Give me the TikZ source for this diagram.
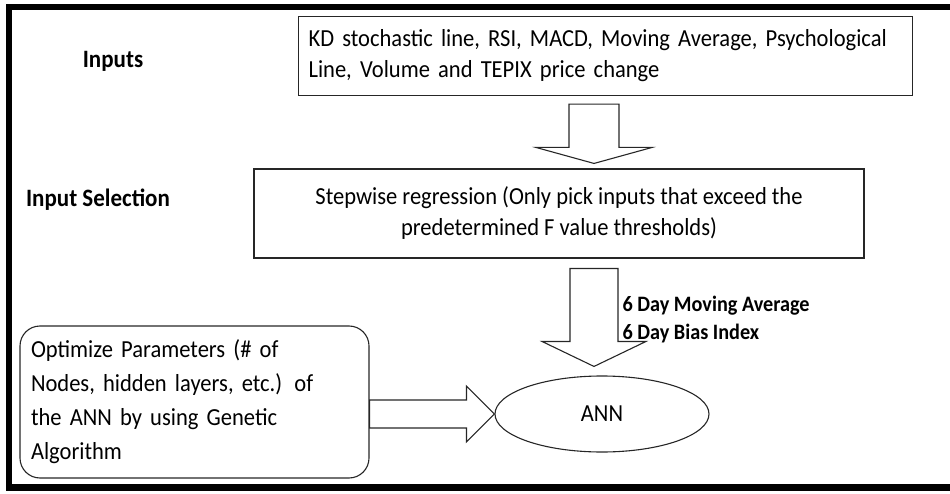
\documentclass[tikz,border=0pt]{standalone}
\usepackage{fontspec}
\setmainfont{Carlito}[FakeStretch=0.92]
\usetikzlibrary{calc,shapes.geometric}
% hollow block arrow: (start)(tip)(shaft half:head half:head length)
\def\blockarrow(#1)(#2)(#3:#4:#5){%
	\coordinate (hb) at ($(#2)!#5pt!(#1)$);
	\draw[blockline] ($(#1)!#3pt!90:(#2)$) -- ($(hb)!#3pt!90:(#2)$) -- ($(hb)!#4pt!90:(#2)$) -- (#2)
		-- ($(hb)!#4pt!-90:(#2)$) -- ($(hb)!#3pt!-90:(#2)$) -- ($(#1)!#3pt!-90:(#2)$) -- cycle;}

\begin{document}
\begin{tikzpicture}[x=1pt,y=-1pt,
		box/.style={draw=black!85,line width=1.1pt,inner ysep=4pt,font=\fontsize{24.5}{31}\selectfont},
		blockline/.style={draw=black!85,line width=1.1pt,line join=miter},
		tag/.style={font=\fontsize{25}{28}\selectfont\bfseries},
		outtag/.style={anchor=west,font=\fontsize{22}{26}\selectfont\bfseries},
		frame/.style={line width=6.5pt,line join=miter}]
				\useasboundingbox (0,0) rectangle (950,494);
				\draw[frame] (955,7) -| (9,487.5) -- (955,487.5);
				
				\node[tag] (inlab) at (113,61) {Inputs};
				\node[tag] (sellab) at (98,200) {Input Selection};
				
				\node[box,anchor=north west,text width=594,inner xsep=10,minimum height=79,align=left] (inbox) at (298,16)
					{KD stochastic line, RSI, MACD, Moving Average, Psychological\\Line, Volume and TEPIX price change};
				\node[box,minimum width=610,minimum height=89,align=center] (selbox) at (559,213.5)
					{Stepwise regression (Only pick inputs that exceed the\\predetermined F value thresholds)};
				\node[box,rounded corners=20,text width=327,inner xsep=11,minimum height=152,align=left,
					font=\fontsize{24.5}{34}\selectfont] (optbox) at (194.5,402)
					{Optimize Parameters (\# of\\Nodes, hidden layers, etc.)\enspace of\\the ANN by using Genetic\\Algorithm};
				\node[box,ellipse,minimum width=214,minimum height=76,inner sep=0] (ann) at (602,414) {ANN};
				
				\coordinate (acol) at ([xshift=-8pt]ann.north);
				\coordinate (a1s) at ([yshift=-8pt]inbox.south -| acol);
				\coordinate (a1t) at ([yshift=5pt]selbox.north -| acol);
				\coordinate (a2s) at ([yshift=-10pt]selbox.south -| acol);
				\coordinate (a2t) at ([yshift=9pt]ann.north -| acol);
				\coordinate (a3s) at (optbox.east |- ann.west);
				
				\blockarrow(a1s)(a1t)(25:58:16)
				\blockarrow(a2s)(a2t)(24:52:25)
				\blockarrow(a3s)(ann.west)(14:28:28)
				
				\node[outtag] (malab) at (619,306) {6 Day Moving Average};
				\node[outtag] (bilab) at (619,334) {6 Day Bias Index};
			\end{tikzpicture}
\end{document}
